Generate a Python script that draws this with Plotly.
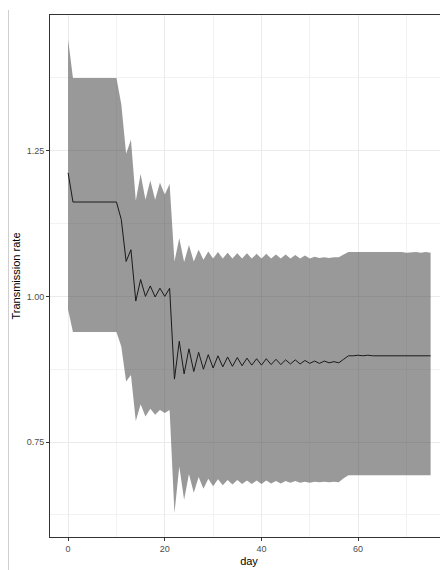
import plotly.graph_objects as go

days = list(range(0, 76))

upper = [1.441] + [1.375] * 10 + [
    1.330, 1.245, 1.269, 1.164, 1.210, 1.166, 1.199, 1.166, 1.195, 1.175, 1.193,
    1.060, 1.100, 1.059, 1.088, 1.060, 1.080, 1.063, 1.077, 1.065, 1.076,
    1.065, 1.075, 1.065, 1.074, 1.065, 1.074, 1.065, 1.073, 1.065, 1.073,
    1.065, 1.072, 1.065, 1.072, 1.065, 1.071, 1.065, 1.070, 1.065, 1.068,
    1.066, 1.067, 1.066, 1.067, 1.067, 1.072, 1.076,
    1.076, 1.076, 1.077, 1.076, 1.076, 1.076, 1.077, 1.076, 1.076, 1.076,
    1.076, 1.075, 1.076, 1.076, 1.075, 1.076, 1.075,
]

lower = [0.977] + [0.939] * 10 + [
    0.914, 0.854, 0.865, 0.786, 0.815, 0.794, 0.807, 0.797, 0.805, 0.800, 0.805,
    0.628, 0.708, 0.651, 0.695, 0.663, 0.690, 0.670, 0.687, 0.674, 0.686,
    0.676, 0.685, 0.677, 0.685, 0.678, 0.684, 0.678, 0.684, 0.678, 0.684,
    0.679, 0.683, 0.679, 0.683, 0.680, 0.683, 0.680, 0.682, 0.680, 0.682,
    0.681, 0.682, 0.681, 0.682, 0.681, 0.688, 0.693,
    0.693, 0.693, 0.693, 0.693, 0.693, 0.693, 0.692, 0.692, 0.692, 0.692,
    0.692, 0.693, 0.693, 0.693, 0.693, 0.693, 0.693,
]

mean = [1.212] + [1.162] * 10 + [
    1.132, 1.060, 1.080, 0.992, 1.029, 1.000, 1.018, 0.999, 1.014, 1.000, 1.014,
    0.858, 0.923, 0.867, 0.910, 0.871, 0.904, 0.875, 0.900, 0.877, 0.898,
    0.879, 0.896, 0.880, 0.895, 0.881, 0.894, 0.882, 0.893, 0.882, 0.893,
    0.883, 0.892, 0.883, 0.891, 0.884, 0.891, 0.884, 0.890, 0.885, 0.889,
    0.885, 0.889, 0.886, 0.888, 0.886, 0.892, 0.898,
    0.898, 0.899, 0.898, 0.899, 0.898, 0.898, 0.899, 0.898, 0.898, 0.899,
    0.898, 0.898, 0.899, 0.898, 0.898, 0.899, 0.898,
]

x_title = "day"
y_title = "Transmission rate"

FONT = "Liberation Sans, Arial, sans-serif"

fig = go.Figure()
fig.add_trace(go.Scatter(x=days, y=lower, mode="lines", line=dict(width=0),
                         showlegend=False, hoverinfo="skip"))
fig.add_trace(go.Scatter(x=days, y=upper, mode="lines", line=dict(width=0),
                         fill="tonexty", fillcolor="rgba(51,51,51,0.5)",
                         showlegend=False, hoverinfo="skip"))
fig.add_trace(go.Scatter(x=days, y=mean, mode="lines",
                         line=dict(color="#1a1a1a", width=1), showlegend=False))

fig.update_layout(
    width=440, height=562,
    margin=dict(l=42, r=0, t=7, b=33, autoexpand=False),
    paper_bgcolor="white", plot_bgcolor="white",
    font=dict(family=FONT),
    shapes=[dict(type="line", xref="paper", yref="paper",
                 x0=-0.1043, x1=-0.1043, y0=1.0096, y1=-0.07,
                 line=dict(color="#cfcfcf", width=1))],
)

fig.update_xaxes(
    range=[-3.75, 78.6], tick0=0, dtick=20, automargin=False,
    showgrid=True, gridcolor="#EBEBEB", gridwidth=1,
    minor=dict(dtick=10, tick0=0, showgrid=True, gridcolor="#F2F2F2", gridwidth=0.6),
    showline=True, linecolor="#333333", linewidth=1, mirror=True,
    ticks="outside", ticklen=3, tickcolor="#333333", tickwidth=1,
    tickfont=dict(size=9, color="#4D4D4D"),
    title=dict(text=x_title, font=dict(size=11, color="black"), standoff=4),
    zeroline=False,
)
fig.update_yaxes(
    range=[0.587, 1.483], tick0=0.75, dtick=0.25, tickformat=".2f", automargin=False,
    showgrid=True, gridcolor="#EBEBEB", gridwidth=1,
    minor=dict(dtick=0.125, tick0=0.625, showgrid=True, gridcolor="#F2F2F2", gridwidth=0.6),
    showline=True, linecolor="#333333", linewidth=1, mirror=False,
    ticks="outside", ticklen=3, tickcolor="#333333", tickwidth=1,
    tickfont=dict(size=9, color="#4D4D4D"),
    title=dict(text=y_title, font=dict(size=11, color="black"), standoff=3),
    zeroline=False,
)

fig.write_html("out.html")
